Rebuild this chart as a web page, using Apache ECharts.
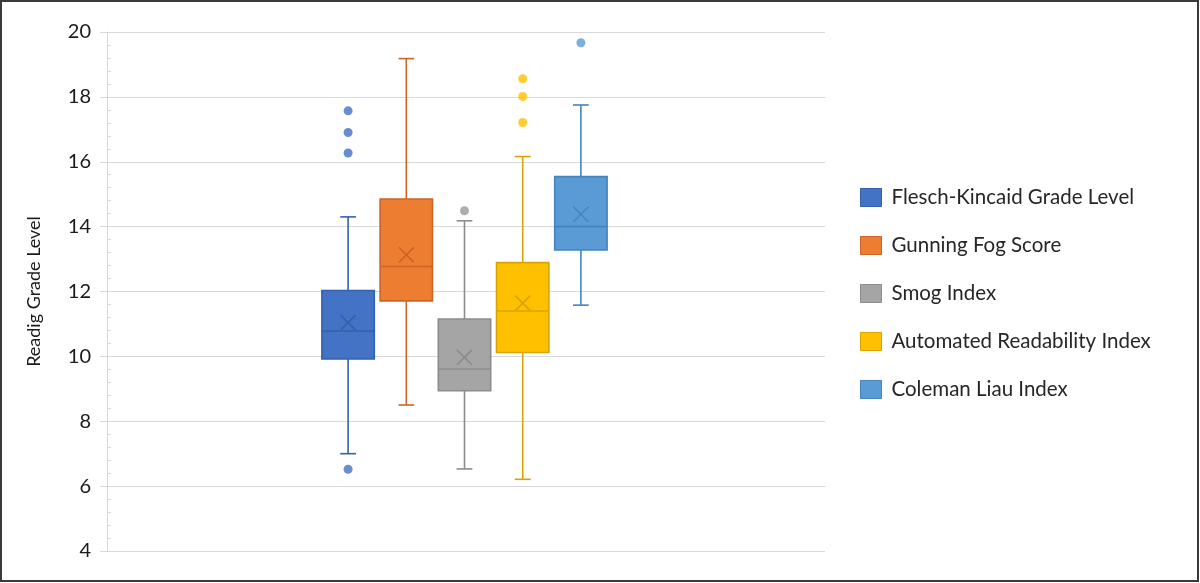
<!DOCTYPE html>
<html>
<head>
<meta charset="utf-8" />
<title>Reading grade level</title>
<script src="https://cdn.jsdelivr.net/npm/echarts@6/dist/echarts.min.js"></script>
<style>
  html, body { margin: 0; padding: 0; background: #fff; }
  #main { width: 1200px; height: 583px; }
</style>
</head>
<body>
<div id="main"></div>
<script>
// ---- data ----
var indexNames = ['Flesch-Kincaid Grade Level', 'Gunning Fog Score', 'Smog Index',
                  'Automated Readability Index', 'Coleman Liau Index'];
// [min whisker, Q1, median, Q3, max whisker]
var fkBox    = [7.0, 9.92, 10.78, 12.03, 14.3];
var gfBox    = [8.5, 11.71, 12.77, 14.85, 19.18];
var smogBox  = [6.53, 8.94, 9.61, 11.15, 14.18];
var ariBox   = [6.21, 10.12, 11.4, 12.89, 16.16];
var clBox    = [11.58, 13.28, 14.0, 15.54, 17.75];
var means    = [11.04, 13.13, 9.97, 11.64, 14.38];
var fkOut    = [17.57, 16.9, 16.27, 6.52];
var gfOut    = [];
var smogOut  = [14.49];
var ariOut   = [18.56, 18.01, 17.21];
var clOut    = [19.67];
var yTicks   = [4, 20, 2];   // min, max, step

var boxes    = [fkBox, gfBox, smogBox, ariBox, clBox];
var outliers = [fkOut, gfOut, smogOut, ariOut, clOut];
var fills    = ['#4472C4', '#ED7D31', '#A5A5A5', '#FFC000', '#5B9BD5'];
var strokes  = ['#3461AE', '#CD6526', '#8C8C8C', '#D9A400', '#4683BE'];

var chart = echarts.init(document.getElementById('main'));

function makeRenderer(fill, stroke) {
  return function (params, api) {
    var x = api.value(0);
    var pMin = api.coord([x, api.value(1)]);
    var pQ1 = api.coord([x, api.value(2)]);
    var pMed = api.coord([x, api.value(3)]);
    var pQ3 = api.coord([x, api.value(4)]);
    var pMax = api.coord([x, api.value(5)]);
    var pMean = api.coord([x, api.value(6)]);
    var band = api.size([1, 0])[0];
    var hw = band * 0.45, cw = band * 0.135, mw = 7.5;
    var cx = pMed[0];
    var line = { stroke: stroke, lineWidth: 1.6 };
    return {
      type: 'group',
      children: [
        { type: 'line', shape: { x1: cx, y1: pQ3[1], x2: cx, y2: pMax[1] }, style: line },
        { type: 'line', shape: { x1: cx, y1: pQ1[1], x2: cx, y2: pMin[1] }, style: line },
        { type: 'line', shape: { x1: cx - cw, y1: pMax[1], x2: cx + cw, y2: pMax[1] }, style: line },
        { type: 'line', shape: { x1: cx - cw, y1: pMin[1], x2: cx + cw, y2: pMin[1] }, style: line },
        { type: 'rect', shape: { x: cx - hw, y: pQ3[1], width: hw * 2, height: pQ1[1] - pQ3[1] },
          style: { fill: fill, stroke: stroke, lineWidth: 1.6 } },
        { type: 'line', shape: { x1: cx - hw, y1: pMed[1], x2: cx + hw, y2: pMed[1] }, style: line },
        { type: 'line', shape: { x1: cx - mw, y1: pMean[1] - mw, x2: cx + mw, y2: pMean[1] + mw }, style: line },
        { type: 'line', shape: { x1: cx - mw, y1: pMean[1] + mw, x2: cx + mw, y2: pMean[1] - mw }, style: line }
      ]
    };
  };
}

var series = [];
for (var i = 0; i < indexNames.length; i++) {
  series.push({
    name: indexNames[i],
    type: 'custom',
    xAxisIndex: 1,
    yAxisIndex: 1,
    itemStyle: { color: fills[i] },
    encode: { x: 0, y: [1, 2, 3, 4, 5, 6] },
    renderItem: makeRenderer(fills[i], strokes[i]),
    data: [[i].concat(boxes[i]).concat([means[i]])],
    z: 3
  });
  series.push({
    name: indexNames[i],
    type: 'scatter',
    xAxisIndex: 1,
    yAxisIndex: 1,
    symbol: 'circle',
    symbolSize: 9,
    itemStyle: { color: strokes[i] === '#8C8C8C' ? '#9a9a9a' : fills[i] },
    data: outliers[i].map(function (v) { return [i, v]; }),
    z: 4
  });
}

var option = {
  animation: false,
  graphic: [{
    type: 'rect',
    shape: { x: 1, y: 1, width: 1197, height: 580 },
    style: { fill: 'none', stroke: '#3a3a3a', lineWidth: 2 }
  }],
  legend: {
    orient: 'vertical',
    left: 855,
    top: 182,
    itemWidth: 21,
    itemHeight: 18,
    itemGap: 27,
    icon: 'rect',
    textStyle: { fontFamily: 'Lato', fontSize: 20.5, color: '#262626', lineHeight: 19, padding: [0, 0, 0, 5] },
    data: indexNames.map(function (n, k) {
      return { name: n, itemStyle: { color: fills[k], borderColor: strokes[k], borderWidth: 1 } };
    })
  },
  grid: [
    { left: 107, right: 375, top: 32, bottom: 32 },
    { left: 319, width: 291, top: 32, bottom: 32 }
  ],
  xAxis: [
    { type: 'category', gridIndex: 0, data: [''], axisLine: { show: false },
      axisTick: { show: false }, axisLabel: { show: false } },
    { type: 'category', gridIndex: 1, data: indexNames, show: false }
  ],
  yAxis: [
    {
      type: 'value', gridIndex: 0,
      min: yTicks[0], max: yTicks[1], interval: yTicks[2],
      name: 'Readig Grade Level',
      nameLocation: 'middle',
      nameGap: 64,
      nameTextStyle: { fontFamily: 'Lato', fontSize: 18, color: '#1a1a1a' },
      axisLine: { show: true, lineStyle: { color: '#d9d9d9', width: 1 } },
      axisTick: { show: true, length: 7, lineStyle: { color: '#d9d9d9' } },
      minorTick: { show: true, splitNumber: 5, length: -4, lineStyle: { color: '#d9d9d9' } },
      axisLabel: { fontFamily: 'Lato', fontSize: 20, color: '#1a1a1a', margin: 16 },
      splitLine: { show: true, lineStyle: { color: '#d9d9d9', width: 1 } }
    },
    {
      type: 'value', gridIndex: 1,
      min: yTicks[0], max: yTicks[1], interval: yTicks[2],
      show: false, splitLine: { show: false }
    }
  ],
  series: series
};

chart.setOption(option);
</script>
</body>
</html>
